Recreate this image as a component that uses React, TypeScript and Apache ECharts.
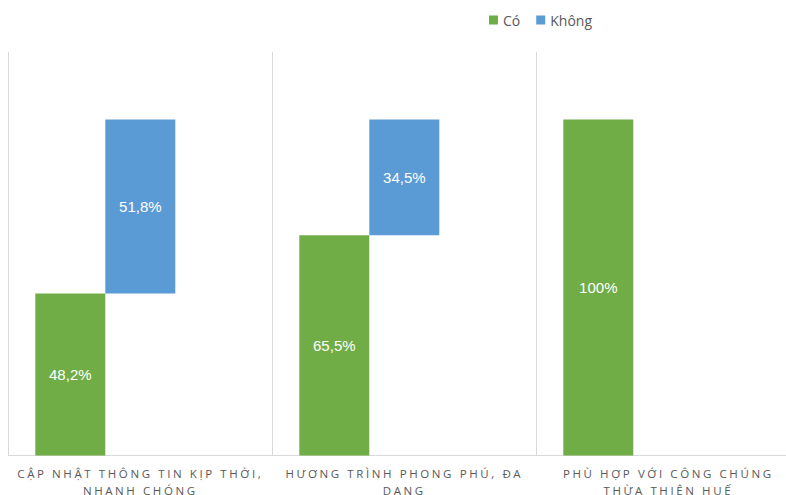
import React, { useEffect, useRef } from "react";
import * as echarts from "echarts";

const categories = [
  "CẬP NHẬT THÔNG TIN KỊP THỜI,\nNHANH CHÓNG",
  "HƯƠNG TRÌNH PHONG PHÚ, ĐA\nDANG",
  "PHÙ HỢP VỚI CÔNG CHÚNG\nTHỪA THIÊN HUẾ",
];
const coValues = [48.2, 65.5, 100];
const khongValues: (number | string)[] = [51.8, 34.5, "-"];
const baseValues: (number | string)[] = [48.2, 65.5, "-"];
const emptyValues = ["-", "-", "-"];

const fmt = (v: number) => String(v).replace(".", ",") + "%";

export default function App() {
  const ref = useRef<HTMLDivElement>(null);
  useEffect(() => {
    if (!ref.current) return;
    const chart = echarts.init(ref.current, undefined, { renderer: "svg" });
    const labelStyle = {
      show: true,
      position: "inside" as const,
      color: "#ffffff",
      fontSize: 15,
      fontFamily: "Liberation Sans",
      formatter: (p: any) => fmt(p.value),
    };
    chart.setOption({
      animation: false,
      legend: {
        data: ["Có", "Không"],
        left: 484,
        top: 8,
        icon: "rect",
        itemWidth: 9,
        itemHeight: 9,
        itemGap: 16,
        textStyle: { color: "#595959", fontSize: 14, fontFamily: "Open Sans" },
      },
      grid: {
        left: 8.3,
        top: 52.2,
        width: 792,
        height: 403.3,
        containLabel: false,
        outerBoundsMode: "none",
      },
      xAxis: {
        type: "category",
        data: categories,
        axisLine: { lineStyle: { color: "#D9D9D9", width: 1 } },
        axisTick: { show: false },
        splitLine: { show: true, lineStyle: { color: "#D9D9D9", width: 1 } },
        axisLabel: {
          color: "#595959",
          fontSize: 11.5,
          fontFamily: "Open Sans",
          lineHeight: 17,
          margin: 9,
          interval: 0,
        },
      },
      yAxis: {
        type: "value",
        min: 0,
        max: 120,
        show: false,
        splitLine: { show: false },
      },
      series: [
        {
          name: "Có",
          type: "bar",
          data: coValues,
          itemStyle: { color: "#70AD47" },
          barGap: "0%",
          barCategoryGap: "20.45%",
          label: labelStyle,
        },
        {
          name: "base",
          type: "bar",
          stack: "k",
          data: baseValues,
          itemStyle: { color: "transparent" },
          silent: true,
          barGap: "0%",
          barCategoryGap: "20.45%",
        },
        {
          name: "Không",
          type: "bar",
          stack: "k",
          data: khongValues,
          itemStyle: { color: "#5B9BD5" },
          barGap: "0%",
          barCategoryGap: "20.45%",
          label: labelStyle,
        },
        {
          name: "empty",
          type: "bar",
          data: emptyValues,
          barGap: "0%",
          barCategoryGap: "20.45%",
        },
      ],
    });
    // widen the spacing of the category labels, like the reference
    const lines = new Set(categories.flatMap((c) => c.split("\n")));
    ref.current.querySelectorAll("text").forEach((t) => {
      if (lines.has((t.textContent || "").trim())) {
        (t as SVGTextElement).style.letterSpacing = "2.6px";
      }
    });
    return () => chart.dispose();
  }, []);
  return (
    <div style={{ width: 786, height: 495, overflow: "hidden", position: "absolute", left: 0, top: 0 }}>
      <div ref={ref} style={{ width: 810, height: 495 }} />
    </div>
  );
}
